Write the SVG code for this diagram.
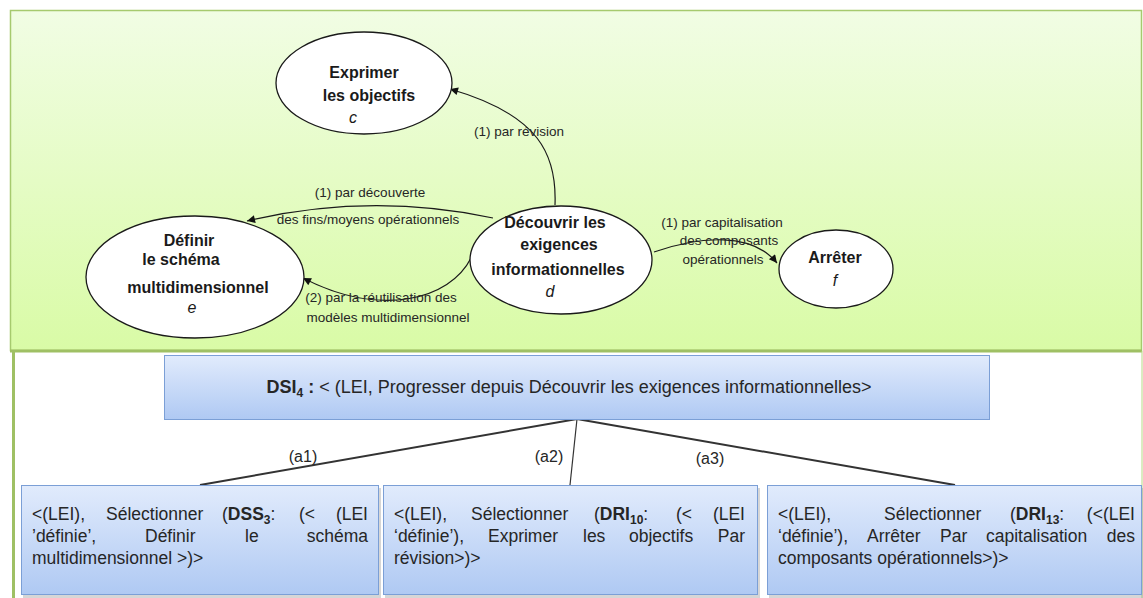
<svg xmlns="http://www.w3.org/2000/svg" width="1143" height="598" viewBox="0 0 1143 598">
<defs>
<linearGradient id="green" x1="0" y1="0" x2="0" y2="1">
<stop offset="0" stop-color="#f1fde4"/>
<stop offset="1" stop-color="#d9fba6"/>
</linearGradient>
<linearGradient id="blue" x1="0" y1="0" x2="0" y2="1">
<stop offset="0" stop-color="#e1ebfc"/>
<stop offset="1" stop-color="#afc9f3"/>
</linearGradient>
<marker id="ah" viewBox="0 0 10 10" refX="10" refY="5" markerWidth="10" markerHeight="8" markerUnits="userSpaceOnUse" orient="auto">
<path d="M0,0 L10,5 L0,10 z" fill="#111"/>
</marker>
<style>
text{font-family:"Liberation Sans",Arial,sans-serif;fill:#1a1a1a}
.ell{fill:#fff;stroke:#1a1a1a;stroke-width:1.3}
.nt{font-size:16px;font-weight:bold;text-anchor:middle}
.it{font-size:16px;font-style:italic;text-anchor:middle}
.lbl{font-size:13.5px;text-anchor:middle;fill:#262626}
.conn{fill:none;stroke:#1a1a1a;stroke-width:1.2;marker-end:url(#ah)}
.box{fill:url(#blue);stroke:#7b9fd6;stroke-width:1}
.shadow{fill:#8a8a8a;opacity:0.35}
.bt{font-size:17.5px;fill:#262626}
.b{font-weight:bold}
.sub{font-size:12px;font-weight:bold}
.al{font-size:16px;text-anchor:middle;fill:#262626}
.tree{stroke:#333;fill:none}
</style>
</defs>

<!-- backgrounds -->
<rect x="10.5" y="10.5" width="1131" height="340" fill="url(#green)" stroke="#a6ca6e" stroke-width="1.5"/>
<line x1="10" y1="351" x2="1142" y2="351" stroke="#9fc064" stroke-width="3"/>
<line x1="13.5" y1="351" x2="13.5" y2="598" stroke="#9fc064" stroke-width="3"/>
<line x1="1142" y1="351" x2="1142" y2="598" stroke="#b8d784" stroke-width="1"/>

<!-- connectors -->
<g id="connectors">
<path class="conn" d="M 555 205 C 557 155, 540 115, 450 89"/>
<path class="conn" d="M 493 218 Q 370 192 247 221"/>
<path class="conn" d="M 471 258 C 450 300, 380 318, 303 278"/>
<path class="conn" d="M 654 252 C 700 236, 752 232, 777 263"/>
<text class="lbl" x="519" y="136">(1) par révision</text>
<text class="lbl" x="370" y="197">(1) par découverte</text>
<text class="lbl" x="368" y="224">des fins/moyens opérationnels</text>
<text class="lbl" x="381" y="302">(2) par la réutilisation des</text>
<text class="lbl" x="388" y="322">modèles multidimensionnel</text>
<text class="lbl" x="722" y="227">(1) par capitalisation</text>
<text class="lbl" x="729" y="245">des composants</text>
<text class="lbl" x="723" y="264">opérationnels</text>

<line class="tree" x1="577" y1="419" x2="200" y2="485" stroke-width="2"/>
<line class="tree" x1="577" y1="419" x2="570" y2="485" stroke-width="1.2"/>
<line class="tree" x1="577" y1="419" x2="955" y2="485" stroke-width="2"/>
<text class="al" x="303" y="462">(a1)</text>
<text class="al" x="549" y="462">(a2)</text>
<text class="al" x="710" y="464">(a3)</text>
</g>

<g id="node-c">
<ellipse class="ell" cx="364" cy="83" rx="88" ry="51"/>
<text class="nt" x="364" y="78">Exprimer</text>
<text class="nt" x="369" y="101">les objectifs</text>
<text class="it" x="353" y="123">c</text>
</g>

<g id="node-e">
<ellipse class="ell" cx="195" cy="277" rx="109" ry="61"/>
<text class="nt" x="189" y="246">Définir</text>
<text class="nt" x="181" y="265">le schéma</text>
<text class="nt" x="198" y="293">multidimensionnel</text>
<text class="it" x="192" y="313">e</text>
</g>

<g id="node-d">
<ellipse class="ell" cx="561" cy="260" rx="91" ry="54"/>
<text class="nt" x="555" y="228">Découvrir les</text>
<text class="nt" x="559" y="250">exigences</text>
<text class="nt" x="558" y="275">informationnelles</text>
<text class="it" x="550" y="297">d</text>
</g>

<g id="node-f">
<ellipse class="ell" cx="836" cy="269" rx="57" ry="39"/>
<text class="nt" x="835" y="263">Arrêter</text>
<text class="it" x="835" y="286">f</text>
</g>

<g id="node-dsi">
<rect class="box" x="164.5" y="355.5" width="825" height="64"/>
<text class="bt" x="569" y="393" text-anchor="middle" style="font-size:18px"><tspan class="b">DSI</tspan><tspan class="sub" dy="4">4</tspan><tspan class="b" dy="-4"> :</tspan> &lt;  (LEI, Progresser depuis Découvrir les exigences informationnelles&gt;</text>
</g>

<g id="node-a1">
<rect class="shadow" x="23" y="488" width="358" height="110"/>
<rect class="box" x="21.5" y="485.5" width="357" height="109"/>
<text class="bt" y="520"><tspan x="32">&lt;(LEI),</tspan><tspan x="106">Sélectionner</tspan><tspan x="222">(<tspan class="b">DSS</tspan><tspan class="sub" dy="4">3</tspan><tspan dy="-4">:</tspan></tspan><tspan x="299">(&lt;</tspan><tspan x="368" text-anchor="end">(LEI</tspan></text>
<text class="bt" y="542"><tspan x="32">’définie’,</tspan><tspan x="145">Définir</tspan><tspan x="245">le</tspan><tspan x="368" text-anchor="end">schéma</tspan></text>
<text class="bt" x="32" y="564">multidimensionnel &gt;)&gt;</text>
</g>

<g id="node-a2">
<rect class="shadow" x="385" y="488" width="375" height="110"/>
<rect class="box" x="383.5" y="485.5" width="374" height="109"/>
<text class="bt" y="520"><tspan x="394">&lt;(LEI),</tspan><tspan x="471">Sélectionner</tspan><tspan x="594">(<tspan class="b">DRI</tspan><tspan class="sub" dy="4">10</tspan><tspan dy="-4">:</tspan></tspan><tspan x="676">(&lt;</tspan><tspan x="745" text-anchor="end">(LEI</tspan></text>
<text class="bt" y="542"><tspan x="394">‘définie’),</tspan><tspan x="488">Exprimer</tspan><tspan x="583">les</tspan><tspan x="629">objectifs</tspan><tspan x="745" text-anchor="end">Par</tspan></text>
<text class="bt" x="394" y="564">révision&gt;)&gt;</text>
</g>

<g id="node-a3">
<rect class="shadow" x="769" y="488" width="374" height="110"/>
<rect class="box" x="767.5" y="485.5" width="374" height="109"/>
<text class="bt" y="520"><tspan x="778">&lt;(LEI),</tspan><tspan x="884">Sélectionner</tspan><tspan x="1010">(<tspan class="b">DRI</tspan><tspan class="sub" dy="4">13</tspan><tspan dy="-4">:</tspan></tspan><tspan x="1135" text-anchor="end">(&lt;(LEI</tspan></text>
<text class="bt" y="542"><tspan x="778">‘définie’),</tspan><tspan x="867">Arrêter</tspan><tspan x="940">Par</tspan><tspan x="986">capitalisation</tspan><tspan x="1135" text-anchor="end">des</tspan></text>
<text class="bt" x="778" y="564">composants opérationnels&gt;)&gt;</text>
</g>
</svg>
